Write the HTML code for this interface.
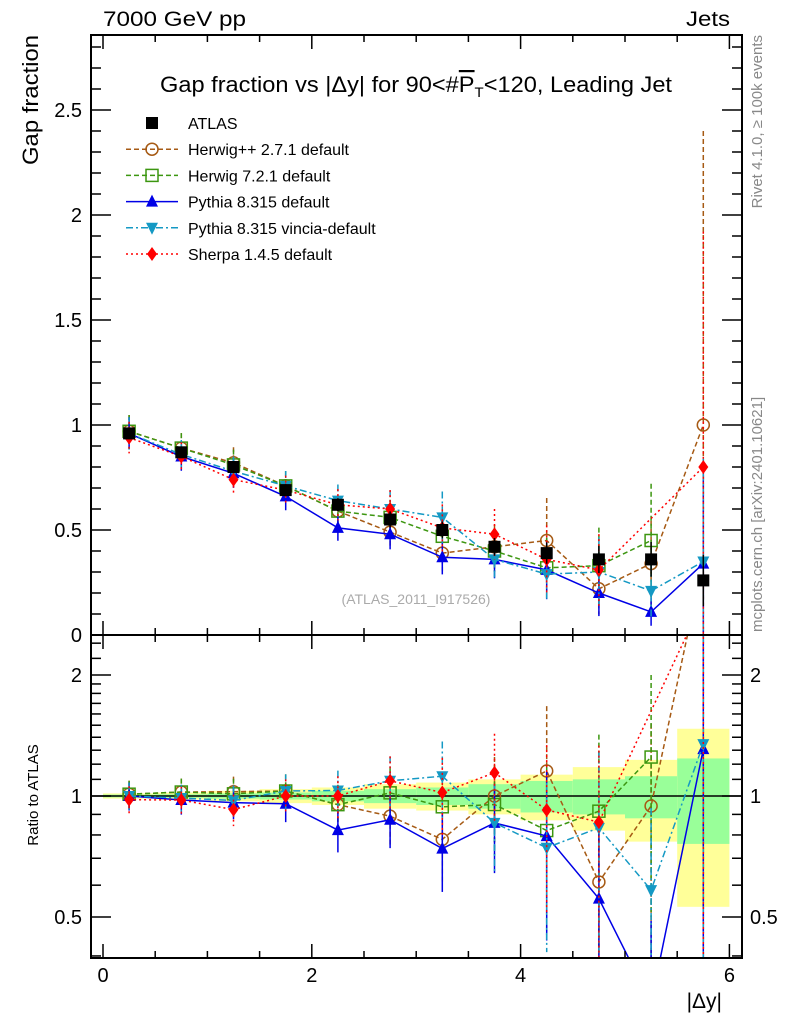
<!DOCTYPE html>
<html><head><meta charset="utf-8"><style>
html,body{margin:0;padding:0;background:#fff;width:786px;height:1024px;overflow:hidden;}
svg{display:block;font-family:"Liberation Sans",sans-serif;}
</style></head><body>
<svg id="c" width="786" height="1024" viewBox="0 0 786 1024">
<text x="103" y="26" font-size="21" textLength="143" lengthAdjust="spacingAndGlyphs">7000 GeV pp</text>
<text x="686" y="26" font-size="21" textLength="44" lengthAdjust="spacingAndGlyphs">Jets</text>
<text transform="translate(38,165) rotate(-90)" font-size="22" textLength="130" lengthAdjust="spacingAndGlyphs">Gap fraction</text>
<text transform="translate(38,795) rotate(-90)" font-size="15" text-anchor="middle">Ratio to ATLAS</text>
<text x="722" y="1008" font-size="21" text-anchor="end">|Δy|</text>
<text transform="translate(762,35) rotate(-90)" font-size="15" fill="#888" text-anchor="end">Rivet 4.1.0, ≥ 100k events</text>
<text transform="translate(762,632) rotate(-90)" font-size="15" fill="#888">mcplots.cern.ch [arXiv:2401.10621]</text>
<text x="160" y="92" font-size="22" textLength="512" lengthAdjust="spacingAndGlyphs">Gap fraction vs |Δy| for 90&lt;#<tspan text-decoration="overline">P</tspan><tspan font-size="14" dy="5">T</tspan><tspan dy="-5">&lt;120, Leading Jet</tspan></text>
<text x="416" y="604" font-size="14" fill="#aaa" text-anchor="middle">(ATLAS_2011_I917526)</text>
<g id="bands"></g><g id="series"></g><g id="axes"></g><g id="legend"></g>
</svg>
<script>
const bins=[0.25,0.75,1.25,1.75,2.25,2.75,3.25,3.75,4.25,4.75,5.25,5.75];
const atlas=[0.96,0.87,0.80,0.69,0.62,0.55,0.50,0.42,0.39,0.36,0.36,0.26];
const bandTotal=[0.015,0.02,0.03,0.04,0.05,0.07,0.08,0.10,0.13,0.18,0.23,0.47];
const bandStat=[0.008,0.01,0.015,0.02,0.03,0.04,0.05,0.07,0.09,0.10,0.12,0.24];
const herwigpp=[0.97,0.89,0.82,0.71,0.59,0.49,0.39,0.42,0.45,0.22,0.34,1.0];
const herwig7=[0.97,0.89,0.81,0.71,0.59,0.56,0.47,0.40,0.32,0.33,0.45,null];
const pythia=[0.96,0.85,0.77,0.66,0.51,0.48,0.37,0.36,0.31,0.20,0.11,0.34];
const vincia=[0.96,0.86,0.78,0.71,0.64,0.60,0.56,0.36,0.29,0.30,0.21,0.35];
const sherpa=[0.94,0.85,0.74,0.69,0.62,0.60,0.51,0.48,0.36,0.31,null,0.80];
const mcErr=[0.08,0.08,0.09,0.10,0.12,0.15,0.22,0.25,0.45,0.55,0.6,1.4];
const xTicks=[0,2,4,6];
const yTicks=[0.5,1,1.5,2,2.5];
const rTicks=[0.5,1,2];

const NS="http://www.w3.org/2000/svg";
const L=91,R=742,T=35,M=635,B=958;
const X=v=>103+v*104.4;
const Y=v=>635-v*210;
const RY=v=>796-Math.log2(v)*121;
function mk(tag,at,par){const e=document.createElementNS(NS,tag);for(const k in at)e.setAttribute(k,at[k]);par.appendChild(e);return e;}
const svg=document.getElementById('c');
const defs=mk('defs',{},svg);
const bandsG=document.getElementById('bands'),serG=document.getElementById('series'),axG=document.getElementById('axes'),legG=document.getElementById('legend');
const clipR=mk('clipPath',{id:'cr'},defs);mk('rect',{x:L,y:M,width:R-L,height:B-M},clipR);
const clipM=mk('clipPath',{id:'cm'},defs);mk('rect',{x:L,y:T,width:R-L,height:M-T},clipM);

bins.forEach((b,i)=>{
  const y1=mk('rect',{x:X(b-0.25),width:104.4*0.5,y:RY(1+bandTotal[i]),height:RY(Math.max(1-bandTotal[i],0.05))-RY(1+bandTotal[i]),fill:'#ffff99'},bandsG);
  
  
  const g1=mk('rect',{x:X(b-0.25),width:104.4*0.5,y:RY(1+bandStat[i]),height:RY(1-bandStat[i])-RY(1+bandStat[i]),fill:'#99ff99'},bandsG);
  
  
});
mk('line',{x1:L,x2:R,y1:RY(1),y2:RY(1),stroke:'#000','stroke-width':1.5},bandsG);

const series=[
 {name:'herwigpp',vals:herwigpp,col:'#a65a14',dash:'5,3',mk:'circle',label:'Herwig++ 2.7.1 default'},
 {name:'herwig7',vals:herwig7,col:'#3c9610',dash:'5,3',mk:'square',label:'Herwig 7.2.1 default'},
 {name:'pythia',vals:pythia,col:'#0000e6',dash:'',mk:'tri',label:'Pythia 8.315 default'},
 {name:'vincia',vals:vincia,col:'#1499c4',dash:'7,3,2,3',mk:'tridown',label:'Pythia 8.315 vincia-default'},
 {name:'sherpa',vals:sherpa,col:'#ff0000',dash:'2,3',mk:'diamond',label:'Sherpa 1.4.5 default'}
];
function marker(type,x,y,col,par,nm){
  let e;
  if(type==='circle')e=mk('circle',{cx:x,cy:y,r:6,fill:'none',stroke:col,'stroke-width':1.5},par);
  else if(type==='square')e=mk('rect',{x:x-6,y:y-6,width:12,height:12,fill:'none',stroke:col,'stroke-width':1.5},par);
  else if(type==='tri')e=mk('polygon',{points:`${x},${y-7} ${x-6},${y+5} ${x+6},${y+5}`,fill:col},par);
  else if(type==='tridown')e=mk('polygon',{points:`${x},${y+7} ${x-6},${y-5} ${x+6},${y-5}`,fill:col},par);
  else if(type==='diamond')e=mk('polygon',{points:`${x},${y-7} ${x-5},${y} ${x},${y+7} ${x+5},${y}`,fill:col},par);
  else e=mk('rect',{x:x-6,y:y-6,width:12,height:12,fill:col},par);
  
  
}
function draw(panel){
  const g=mk('g',{'clip-path':panel==='main'?'url(#cm)':'url(#cr)'},serG);
  const yf=panel==='main'?(v,i)=>Y(v):(v,i)=>RY(v/atlas[i]);
  series.forEach(s=>{
    let pts=[];
    s.vals.forEach((v,i)=>{if(v!==null)pts.push([X(bins[i]),yf(v,i)]);});
    const pl=mk('polyline',{points:pts.map(p=>p.join(',')).join(' '),fill:'none',stroke:s.col,'stroke-width':1.5,'stroke-dasharray':s.dash},g);
    
    
    s.vals.forEach((v,i)=>{
      if(v===null)return;
      const x=X(bins[i]);const e=v*mcErr[i];
      const lo=Math.max(v-e,0.001);
      const eb=mk('line',{x1:x,x2:x,y1:yf(v+e,i),y2:yf(lo,i),stroke:s.col,'stroke-width':1.5,'stroke-dasharray':s.dash},g);
      
      
      marker(s.mk,x,yf(v,i),s.col,g,s.name+'-'+panel+'-point');
    });
  });
  if(panel==='main'){
    atlas.forEach((v,i)=>{
      const x=X(bins[i]);
      mk('line',{x1:x,x2:x,y1:Y(v*(1+bandTotal[i])),y2:Y(v*(1-bandTotal[i])),stroke:'#000','stroke-width':1.5},g);
      marker('sq',x,Y(v),'#000',g,'atlas-point');
    });
  }
}
draw('main');draw('ratio');

mk('rect',{x:L,y:T,width:R-L,height:M-T,fill:'none',stroke:'#000','stroke-width':2},axG);
mk('rect',{x:L,y:M,width:R-L,height:B-M,fill:'none',stroke:'#000','stroke-width':2},axG);
for(let v=0;v<=6.01;v+=0.5){
  const x=X(v);const maj=Math.abs(v-Math.round(v/2)*2)<0.01;const len=maj?14:7;
  [[T,1],[M,-1],[M,1],[B,-1]].forEach(([y,d])=>mk('line',{x1:x,x2:x,y1:y,y2:y+d*len,stroke:'#000','stroke-width':1.5},axG));
}
xTicks.forEach(v=>{const t=mk('text',{x:X(v),y:982,'font-size':20,'text-anchor':'middle'},axG);t.textContent=v;
 
 });
for(let v=0;v<=2.85;v+=0.1){
  const y=Y(v);const maj=Math.abs(v*2-Math.round(v*2))<0.01;const len=maj?20:10;
  mk('line',{x1:L,x2:L+len,y1:y,y2:y,stroke:'#000','stroke-width':1.5},axG);
  mk('line',{x1:R,x2:R-len,y1:y,y2:y,stroke:'#000','stroke-width':1.5},axG);
}
yTicks.concat([0]).forEach(v=>{const t=mk('text',{x:82,y:Y(v)+7,'font-size':20,'text-anchor':'end'},axG);t.textContent=v;
 
 });
[0.4,0.5,0.6,0.7,0.8,0.9,1,1.1,1.2,1.3,1.4,1.5,1.6,1.7,1.8,1.9,2,2.2,2.4].forEach(v=>{
  const y=RY(v);const maj=rTicks.includes(v);const len=maj?20:10;
  mk('line',{x1:L,x2:L+len,y1:y,y2:y,stroke:'#000','stroke-width':1.5},axG);
  mk('line',{x1:R,x2:R-len,y1:y,y2:y,stroke:'#000','stroke-width':1.5},axG);
});
rTicks.forEach(v=>{
  const t=mk('text',{x:82,y:RY(v)+7,'font-size':20,'text-anchor':'end'},axG);t.textContent=v;
  
  
  const t2=mk('text',{x:750,y:RY(v)+7,'font-size':20},axG);t2.textContent=v;
  
  
});
const legItems=[{label:'ATLAS',col:'#000',mk:'sq',dash:null}].concat(series);
legItems.forEach((s,i)=>{
  const y=123+i*26.2;
  const g=mk('g',{},legG);
  
  
  if(s.dash!==null)mk('line',{x1:126,x2:178,y1:y,y2:y,stroke:s.col,'stroke-width':1.5,'stroke-dasharray':s.dash},g);
  marker(s.mk,152,y,s.col,g,'legend-marker');
  const t=mk('text',{x:188,y:y+6,'font-size':16},g);t.textContent=s.label;
});
</script>
</body></html>
